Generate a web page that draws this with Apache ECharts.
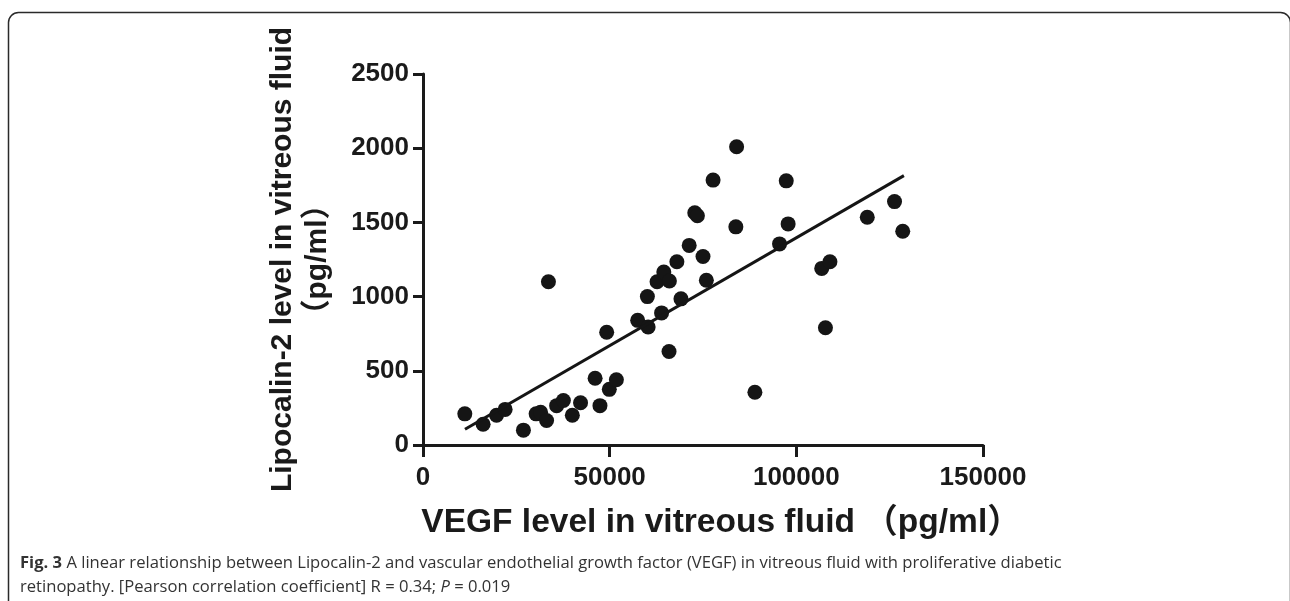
<!DOCTYPE html>
<html>
<head>
<meta charset="utf-8">
<script src="https://cdn.jsdelivr.net/npm/echarts@6/dist/echarts.min.js"></script>
<style>
html,body{margin:0;padding:0;background:#fff;}
#c{width:1290px;height:601px;}
</style>
</head>
<body>
<div id="c"></div>
<script>
// VEGF (pg/ml) values
const vegf = [11200,16100,19700,22000,26900,30300,31500,33100,33600,35800,37600,40000,42200,46100,47400,49200,49900,51800,57500,60300,60100,63900,65900,62700,64500,66000,68000,69100,71300,72800,73500,75000,75900,77700,84000,83800,88900,95500,97300,97800,106800,109000,107800,119000,126300,128500];
// Lipocalin-2 (pg/ml) values
const lcn2 = [210,140,200,240,100,210,220,165,1100,265,300,200,285,450,265,760,375,440,840,795,1000,890,630,1100,1165,1105,1235,985,1345,1565,1545,1270,1110,1785,2010,1470,355,1355,1780,1490,1190,1235,790,1535,1640,1440];
// fitted regression line end points
const fitX = [11248, 128812];
const fitY = [106, 1815];
const xTicks = [0, 50000, 100000, 150000];
const yTicks = [0, 500, 1000, 1500, 2000, 2500];

const points = vegf.map((v, i) => [v, lcn2[i]]);
const fitLine = fitX.map((v, i) => [v, fitY[i]]);

const chart = echarts.init(document.getElementById('c'), null, {renderer: 'canvas'});
const axisCol = '#1a1a1a';
const F = '"Liberation Sans", Arial, "Noto Sans CJK SC", sans-serif';
const CF = '"Open Sans", sans-serif';
chart.setOption({
  animation: false,
  backgroundColor: '#fff',
  grid: {left: 423, right: 307, top: 74, bottom: 156, containLabel: false},
  xAxis: {
    type: 'value', min: xTicks[0], max: xTicks[xTicks.length-1], interval: 50000,
    splitLine: {show: false},
    axisLine: {show: true, onZero: false, lineStyle: {color: axisCol, width: 3}},
    axisTick: {show: true, length: 12, lineStyle: {color: axisCol, width: 3}},
    axisLabel: {color: axisCol, fontSize: 26, fontWeight: 'bold', fontFamily: F, margin: 20,
      formatter: v => String(v)},
    name: 'VEGF level in vitreous fluid （pg/ml）',
    nameLocation: 'middle', nameGap: 61,
    nameTextStyle: {color: axisCol, fontSize: 33.5, fontWeight: 'bold', fontFamily: F, padding: [0, 0, 0, 36]}
  },
  yAxis: {
    type: 'value', min: yTicks[0], max: yTicks[yTicks.length-1], interval: 500,
    splitLine: {show: false},
    axisLine: {show: true, onZero: false, lineStyle: {color: axisCol, width: 3}},
    axisTick: {show: true, length: 10, lineStyle: {color: axisCol, width: 3}},
    axisLabel: {color: axisCol, fontSize: 26, fontWeight: 'bold', fontFamily: F, margin: 14,
      formatter: v => String(v)},
    name: 'Lipocalin-2 level in vitreous fluid\n（pg/ml）',
    nameLocation: 'middle', nameRotate: 90, nameGap: 88,
    nameTextStyle: {color: axisCol, fontSize: 30, fontWeight: 'bold', fontFamily: F, lineHeight: 35, align: 'center'}
  },
  series: [
    {
      type: 'scatter', data: points, symbolSize: 15,
      itemStyle: {color: '#151515', opacity: 1}, z: 3
    },
    {
      type: 'line', data: fitLine, showSymbol: false, symbol: 'none',
      lineStyle: {color: '#151515', width: 3}, z: 4
    }
  ],
  graphic: [
    {
      type: 'rect', left: 6, top: 10, z: -1,
      shape: {x: 0, y: 0, width: 1282, height: 640, r: 10},
      style: {fill: 'none', stroke: '#2a2a2a', lineWidth: 1.5}
    },
    {
      type: 'text', left: 20, top: 555,
      style: {
        text: '{b|Fig. 3} A linear relationship between Lipocalin-2 and vascular endothelial growth factor (VEGF) in vitreous fluid with proliferative diabetic',
        font: '16.6px ' + CF, fill: '#333',
        rich: {b: {fontWeight: 'bold', fontSize: 16.6, fontFamily: CF, fill: '#333'}}
      }
    },
    {
      type: 'text', left: 20, top: 579,
      style: {
        text: 'retinopathy. [Pearson correlation coefficient] R = 0.34; {i|P} = 0.019',
        font: '16.6px ' + CF, fill: '#333',
        rich: {i: {fontStyle: 'italic', fontSize: 16.6, fontFamily: CF, fill: '#333'}}
      }
    }
  ]
});
</script>
</body>
</html>
